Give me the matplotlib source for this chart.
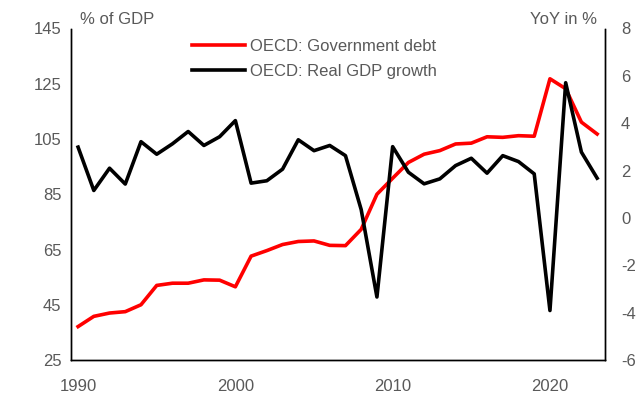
import numpy as np
import matplotlib.pyplot as plt

plt.rcParams['font.family'] = ['Liberation Sans', 'DejaVu Sans']
plt.rcParams['axes.unicode_minus'] = False

# Data
years = np.arange(1990, 2024)
gov_debt = [37.1, 40.8, 42.0, 42.5, 45.0, 52.0, 52.8, 52.8, 54.0, 53.9,
            51.5, 62.6, 64.6, 66.8, 67.9, 68.1, 66.5, 66.4, 72.3, 85.0,
            90.8, 96.5, 99.5, 100.8, 103.2, 103.5, 105.8, 105.6, 106.2, 106.0,
            126.8, 123.2, 111.1, 106.8]
gdp_growth = [2.99, 1.16, 2.10, 1.43, 3.22, 2.69, 3.13, 3.65, 3.06, 3.43,
              4.11, 1.47, 1.57, 2.06, 3.30, 2.84, 3.06, 2.63, 0.35, -3.34,
              3.01, 1.93, 1.44, 1.65, 2.21, 2.52, 1.89, 2.63, 2.38, 1.86,
              -3.91, 5.71, 2.78, 1.68]

grey = '#595959'

fig = plt.figure(figsize=(6.39, 3.95), dpi=100)
ax = fig.add_axes([71 / 639, 1 - 360 / 395, (605 - 71) / 639, (360 - 28.5) / 395])
ax2 = ax.twinx()

l1, = ax.plot(years, gov_debt, color='#ff0000', lw=2.6, label='OECD: Government debt')
l2, = ax2.plot(years, gdp_growth, color='black', lw=2.6, label='OECD: Real GDP growth')

ax.set_xlim(1989.55, 2023.5)
ax.set_ylim(25, 145)
ax.set_yticks(np.arange(25, 146, 20))
ax2.set_ylim(-6, 8)
ax2.set_yticks(np.arange(-6, 9, 2))
ax.set_xticks([1990, 2000, 2010, 2020])

for a in (ax, ax2):
    a.spines['top'].set_visible(False)
    for s in ('left', 'right', 'bottom'):
        a.spines[s].set_color('black')
        a.spines[s].set_linewidth(1.0)
    a.tick_params(length=0, labelsize=12, labelcolor=grey)
ax.tick_params(axis='x', pad=14)
ax.tick_params(axis='y', pad=7)
ax2.tick_params(axis='y', pad=11.5)

fig.text(80 / 639, 1 - 20 / 395, '% of GDP', fontsize=12, color=grey, va='center', ha='left')
fig.text(597 / 639, 1 - 20 / 395, 'YoY in %', fontsize=12, color=grey, va='center', ha='right')

leg = ax2.legend(handles=[l1, l2], loc='upper left', bbox_to_anchor=(185 / 639, 1 - 32 / 395),
                 bbox_transform=fig.transFigure, frameon=False, fontsize=12,
                 handlelength=3.2, handletextpad=0.3, labelspacing=0.6, borderaxespad=0)
for t in leg.get_texts():
    t.set_color(grey)

fig.savefig('out.png', dpi=100)
